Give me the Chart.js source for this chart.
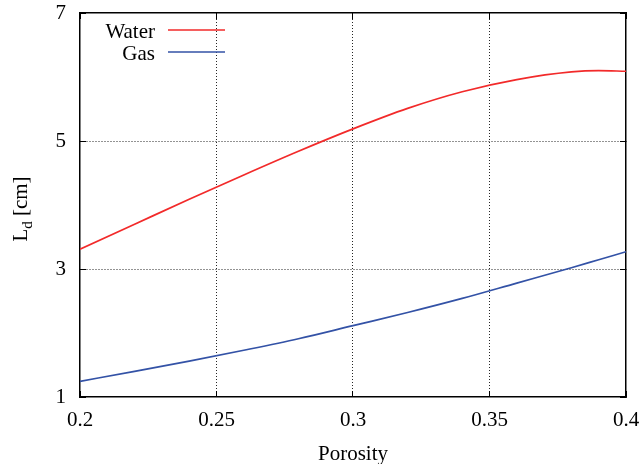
<!DOCTYPE html>
<html>
<head>
<meta charset="utf-8">
<script src="https://cdn.jsdelivr.net/npm/chart.js@4.4.1/dist/chart.umd.min.js"></script>
<style>
  html, body { margin: 0; padding: 0; background: #fff; }
  #wrap { width: 642px; height: 464px; }
</style>
</head>
<body>
<div id="wrap"><canvas id="ldChart" width="642" height="464"></canvas></div>
<script>
// --- DATA ---
const porosity = [0.20, 0.22, 0.24, 0.26, 0.28, 0.30, 0.32, 0.34, 0.36, 0.38, 0.39, 0.40];
const waterLd  = [3.31, 3.70, 4.09, 4.47, 4.84, 5.19, 5.51, 5.77, 5.96, 6.08, 6.10, 6.09];
const gasLd    = [1.245, 1.40, 1.56, 1.73, 1.91, 2.115, 2.32, 2.54, 2.78, 3.02, 3.145, 3.27];
const xTickLabels = ['0.2', '0.25', '0.3', '0.35', '0.4'];
const xTicks = [0.2, 0.25, 0.3, 0.35, 0.4];
const yTicks = [1, 3, 5, 7];

const FONT = '"Liberation Serif", "DejaVu Serif", serif';
const WATER_COLOR = '#f22a2a';
const GAS_COLOR = '#3352a6';

function toPoints(xs, ys) {
    return xs.map((x, i) => ({ x: x, y: ys[i] }));
}

// --- LEGEND, AXIS TITLES ---
const gnuplotText = {
    id: 'gnuplotText',
    afterDraw(chart) {
        const c = chart.ctx;
        const a = chart.chartArea;
        c.save();
        // legend
        c.font = '21px ' + FONT;
        c.textAlign = 'right';
        c.textBaseline = 'alphabetic';
        const rows = [['Water', WATER_COLOR, 38, 30], ['Gas', GAS_COLOR, 60, 52]];
        rows.forEach(r => {
            c.fillStyle = '#000';
            c.fillText(r[0], 155, r[2]);
            c.strokeStyle = r[1];
            c.lineWidth = 1.6;
            c.beginPath();
            c.moveTo(168, r[3]); c.lineTo(225, r[3]);
            c.stroke();
        });

        // x title
        c.fillStyle = '#000';
        c.textAlign = 'center';
        c.fillText('Porosity', (a.left + a.right) / 2, 460);

        // y title with subscript
        c.translate(27, 209);
        c.rotate(-Math.PI / 2);
        c.textAlign = 'left';
        const big = '21px ' + FONT, small = '15px ' + FONT;
        c.font = big;
        const wL = c.measureText('L').width;
        c.font = small;
        const wd = c.measureText('d').width;
        c.font = big;
        const wRest = c.measureText(' [cm]').width;
        const x0 = -(wL + wd + wRest) / 2;
        c.fillText('L', x0, 0);
        c.font = small;
        c.fillText('d', x0 + wL, 5);
        c.font = big;
        c.fillText(' [cm]', x0 + wL + wd, 0);
        c.restore();
    }
};

// mirror axes: frame lines and inward tick marks, no labels
const frameBorder = { display: true, color: '#000', width: 1.5 };
const noBorder = { display: false };
const mirrorGrid = { drawOnChartArea: false, drawTicks: true, tickLength: -6, color: '#000', lineWidth: 1 };

function mirrorX(position, border) {
    return {
        type: 'linear',
        position: position,
        weight: -1,
        min: 0.2,
        max: 0.4,
        afterFit: s => { s.height = 0; s.paddingLeft = 0; s.paddingRight = 0; },
        afterBuildTicks: s => { s.ticks = xTicks.map(v => ({ value: v })); },
        ticks: { display: false },
        border: border,
        grid: mirrorGrid
    };
}

function mirrorY(position, border) {
    return {
        position: position,
        weight: -1,
        min: 1,
        max: 7,
        afterFit: s => { s.width = 0; s.paddingTop = 0; s.paddingBottom = 0; },
        afterBuildTicks: s => { s.ticks = yTicks.map(v => ({ value: v })); },
        ticks: { display: false },
        border: border,
        grid: mirrorGrid
    };
}

// --- CHART ---
const ctx = document.getElementById('ldChart').getContext('2d');
const chart = new Chart(ctx, {
    type: 'line',
    data: {
        datasets: [
            {
                label: 'Water',
                data: toPoints(porosity, waterLd),
                borderColor: WATER_COLOR,
                borderWidth: 1.7,
                pointRadius: 0,
                cubicInterpolationMode: 'monotone',
                fill: false
            },
            {
                label: 'Gas',
                data: toPoints(porosity, gasLd),
                borderColor: GAS_COLOR,
                borderWidth: 1.7,
                pointRadius: 0,
                cubicInterpolationMode: 'monotone',
                fill: false
            }
        ]
    },
    options: {
        responsive: false,
        animation: false,
        events: [],
        layout: { padding: { top: 13, right: 16, left: 0, bottom: 0 } },
        plugins: {
            legend: { display: false },
            tooltip: { enabled: false }
        },
        scales: {
            x: {
                type: 'linear',
                min: 0.2,
                max: 0.4,
                afterFit: s => { s.height = 67; s.paddingLeft = 0; s.paddingRight = 0; },
                afterBuildTicks: s => { s.ticks = xTicks.map(v => ({ value: v })); },
                ticks: {
                    padding: 11,
                    color: '#000',
                    font: { family: FONT, size: 21 },
                    maxRotation: 0,
                    callback: (v, i) => xTickLabels[i]
                },
                border: { display: true, color: '#000', width: 1.5, dash: [1, 2] },
                grid: {
                    drawTicks: false,
                    color: c => (c.tick && (c.tick.value === 0.2 || c.tick.value === 0.4)) ? 'rgba(0,0,0,0)' : 'rgba(0,0,0,0.85)',
                    lineWidth: 1
                }
            },
            xTop: mirrorX('top', frameBorder),
            xBottom: mirrorX('bottom', noBorder),
            y: {
                min: 1,
                max: 7,
                afterFit: s => { s.width = 80; s.paddingTop = 0; s.paddingBottom = 0; },
                afterBuildTicks: s => { s.ticks = yTicks.map(v => ({ value: v })); },
                ticks: {
                    padding: 14,
                    color: '#000',
                    font: { family: FONT, size: 21 },
                    callback: v => String(v)
                },
                border: { display: true, color: '#000', width: 1.5, dash: [1, 2] },
                grid: {
                    drawTicks: false,
                    color: c => (c.tick && (c.tick.value === 1 || c.tick.value === 7)) ? 'rgba(0,0,0,0)' : 'rgba(0,0,0,0.85)',
                    lineWidth: 1
                }
            },
            yRight: mirrorY('right', frameBorder),
            yLeft: mirrorY('left', noBorder)
        }
    },
    plugins: [gnuplotText]
});
</script>
</body>
</html>
